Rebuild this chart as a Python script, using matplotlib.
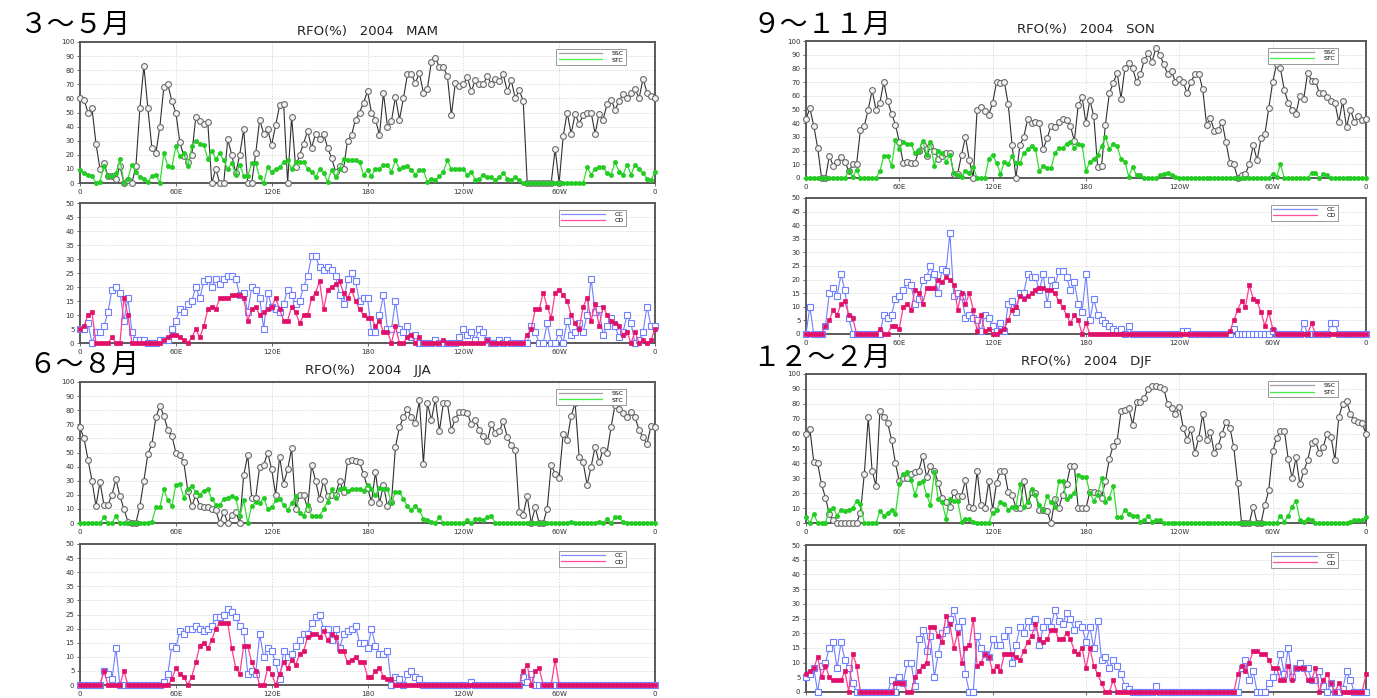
import matplotlib
matplotlib.use("Agg")
import matplotlib.pyplot as plt
from matplotlib.lines import Line2D
import numpy as np

plt.rcParams["font.family"] = ["DejaVu Sans"]

# longitude grid, 2.5 deg spacing, 0E .. 360 (=0)
lon = np.arange(0, 361, 2.5)
lon_ticks = [0, 60, 120, 180, 240, 300, 360]
lon_labels = ["0", "60E", "120E", "180", "120W", "60W", "0"]

seasons = ["MAM", "JJA", "SON", "DJF"]
season_names = ["３～５月", "６～８月", "９～１１月", "１２～２月"]

# ---- MAM ----
mam_ssc = [60, 59, 50, 53, 28, 10, 14, 5, 5, 3, 12, 0, 2, 0, 12, 53, 83, 53, 25, 21, 40, 68, 70, 58,
           50, 29, 19, 15, 20, 47, 44, 42, 43, 0, 10, 0, 0, 31, 20, 7, 20, 38, 0, 0, 21, 45, 35, 38,
           27, 41, 55, 56, 0, 47, 11, 20, 28, 37, 25, 35, 31, 35, 25, 18, 8, 12, 10, 30, 34, 45, 50, 57,
           65, 50, 45, 34, 64, 40, 44, 61, 45, 60, 77, 77, 71, 78, 64, 67, 86, 89, 82, 82, 76, 48, 71, 69,
           70, 75, 65, 73, 70, 70, 76, 70, 74, 72, 77, 65, 73, 60, 66, 58, 0, 0, 0, 0, 0, 0, 0, 24,
           0, 33, 50, 35, 49, 42, 48, 50, 50, 35, 49, 45, 56, 59, 52, 58, 63, 60, 64, 67, 60, 74, 64, 62,
           60]
mam_stc = [9, 7, 6, 5, 0, 1, 12, 5, 5, 7, 17, 0, 3, 13, 8, 4, 3, 1, 5, 6, 0, 21, 12, 11,
           26, 19, 21, 12, 26, 30, 28, 27, 17, 23, 17, 21, 16, 10, 14, 6, 13, 5, 5, 14, 14, 4, 0, 11,
           8, 10, 11, 15, 16, 10, 15, 15, 15, 10, 8, 4, 10, 7, 1, 9, 4, 10, 17, 16, 16, 16, 15, 6,
           9, 5, 10, 10, 13, 13, 8, 16, 10, 11, 12, 9, 6, 9, 9, 1, 3, 2, 5, 8, 16, 10, 10, 10,
           10, 6, 8, 2, 3, 6, 4, 4, 2, 4, 7, 3, 2, 4, 2, 0, 0, 0, 0, 0, 0, 0, 0, 0,
           0, 0, 0, 0, 0, 0, 0, 11, 6, 10, 11, 11, 7, 6, 15, 8, 6, 13, 6, 13, 10, 7, 3, 2,
           8]
mam_cc = [5, 5, 7, 0, 4, 4, 6, 11, 19, 20, 18, 8, 16, 4, 1, 1, 1, 0, 0, 0, 1, 1, 1, 5,
          8, 12, 11, 14, 15, 20, 16, 22, 23, 20, 23, 21, 23, 24, 24, 23, 17, 18, 11, 20, 19, 16, 5, 18,
          13, 12, 11, 14, 19, 17, 14, 15, 20, 24, 31, 31, 27, 26, 27, 26, 24, 17, 14, 23, 25, 22, 15, 16,
          16, 4, 4, 10, 17, 5, 5, 15, 5, 4, 6, 2, 3, 0, 0, 0, 0, 1, 0, 0, 0, 0, 0, 2,
          5, 3, 4, 1, 5, 4, 1, 0, 0, 1, 0, 1, 0, 0, 0, 0, 0, 6, 4, 0, 0, 7, 0, 0,
          4, 0, 8, 3, 4, 7, 4, 10, 23, 11, 12, 3, 6, 9, 6, 2, 4, 10, 7, 0, 1, 4, 13, 6,
          6]
mam_cd = [5, 6, 10, 11, 0, 0, 0, 0, 2, 0, 0, 16, 10, 0, 0, 0, 0, 0, 0, 0, 0, 1, 2, 3,
          3, 2, 1, 0, 2, 5, 2, 6, 12, 13, 12, 16, 16, 16, 17, 17, 17, 16, 8, 12, 13, 10, 11, 12,
          13, 16, 12, 8, 8, 13, 11, 7, 10, 10, 16, 18, 22, 12, 19, 20, 21, 22, 18, 16, 19, 15, 12, 10,
          9, 9, 6, 8, 4, 4, 0, 6, 0, 0, 2, 3, 0, 2, 0, 0, 0, 0, 0, 1, 0, 0, 0, 0,
          0, 0, 0, 0, 0, 0, 1, 0, 0, 0, 0, 0, 0, 0, 0, 0, 3, 5, 12, 12, 18, 13, 9, 18,
          19, 17, 15, 10, 7, 5, 13, 16, 8, 14, 6, 13, 10, 8, 7, 6, 3, 4, 0, 4, 0, 1, 0, 1,
          5]

# ---- JJA ----
jja_ssc = [68, 60, 45, 30, 12, 29, 13, 13, 20, 31, 19, 10, 1, 0, 0, 12, 30, 49, 56, 75, 83, 76, 66, 62,
           50, 48, 43, 23, 12, 20, 12, 11, 11, 10, 9, 0, 8, 0, 6, 8, 0, 34, 48, 18, 18, 40, 41, 50,
           38, 20, 47, 28, 38, 53, 10, 20, 20, 10, 41, 30, 17, 30, 19, 20, 20, 30, 22, 44, 45, 44, 43, 35,
           25, 15, 36, 14, 27, 12, 15, 54, 68, 75, 81, 75, 71, 87, 42, 85, 73, 88, 65, 85, 85, 66, 74, 79,
           79, 78, 70, 73, 66, 62, 58, 70, 64, 65, 72, 61, 55, 52, 8, 6, 19, 0, 11, 0, 0, 10, 41, 35,
           32, 63, 59, 76, 85, 47, 43, 27, 40, 54, 43, 52, 50, 68, 84, 81, 78, 75, 79, 75, 66, 61, 56, 69,
           68]
jja_stc = [0, 0, 0, 0, 0, 0, 4, 0, 0, 5, 0, 0, 0, 0, 0, 0, 0, 0, 1, 11, 11, 24, 16, 12,
           27, 28, 18, 24, 26, 22, 20, 23, 24, 17, 13, 13, 17, 18, 19, 18, 5, 16, 0, 12, 15, 14, 18, 10,
           11, 16, 17, 13, 9, 14, 19, 7, 5, 13, 5, 5, 5, 10, 15, 24, 18, 24, 25, 23, 24, 24, 24, 23,
           27, 24, 20, 25, 24, 24, 14, 22, 22, 17, 12, 9, 12, 9, 3, 2, 1, 0, 4, 0, 0, 0, 0, 0,
           0, 2, 0, 3, 3, 2, 4, 5, 0, 0, 0, 0, 0, 0, 0, 0, 0, 0, 0, 0, 0, 0, 0, 0,
           0, 0, 0, 1, 0, 0, 0, 0, 0, 0, 1, 0, 3, 0, 4, 4, 1, 0, 0, 0, 0, 0, 0, 0,
           0]
jja_cc = [0, 0, 0, 0, 0, 0, 5, 4, 2, 13, 0, 0, 0, 0, 0, 0, 0, 0, 0, 0, 0, 1, 4, 14,
          13, 19, 18, 20, 20, 21, 20, 19, 20, 21, 24, 24, 25, 27, 26, 24, 21, 19, 4, 5, 4, 18, 10, 13,
          12, 8, 2, 12, 10, 11, 14, 16, 18, 18, 22, 24, 25, 20, 20, 16, 20, 13, 18, 19, 20, 21, 15, 15,
          13, 20, 14, 11, 11, 12, 0, 3, 2, 0, 4, 5, 3, 2, 0, 0, 0, 0, 0, 0, 0, 0, 0, 0,
          0, 0, 1, 0, 0, 0, 0, 0, 0, 0, 0, 0, 0, 0, 0, 3, 1, 4, 0, 0, 0, 0, 0, 0,
          0, 0, 0, 0, 0, 0, 0, 0, 0, 0, 0, 0, 0, 0, 0, 0, 0, 0, 0, 0, 0, 0, 0, 0,
          0]
jja_cd = [0, 0, 0, 0, 0, 0, 5, 0, 0, 0, 0, 5, 0, 0, 0, 0, 0, 0, 0, 0, 0, 0, 0, 2,
          6, 4, 3, 0, 3, 8, 14, 15, 13, 16, 20, 22, 22, 22, 13, 6, 4, 14, 14, 8, 5, 0, 0, 6,
          4, 0, 4, 8, 6, 9, 7, 11, 12, 17, 18, 18, 17, 19, 16, 18, 17, 12, 12, 8, 9, 10, 8, 8,
          3, 3, 5, 6, 3, 2, 2, 0, 0, 0, 0, 0, 0, 0, 0, 0, 0, 0, 0, 0, 0, 0, 0, 0,
          0, 0, 0, 0, 0, 0, 0, 0, 0, 0, 0, 0, 0, 0, 0, 5, 7, 0, 5, 6, 0, 0, 0, 9,
          0, 0, 0, 0, 0, 0, 0, 0, 0, 0, 0, 0, 0, 0, 0, 0, 0, 0, 0, 0, 0, 0, 0, 0,
          0]

# ---- SON ----
son_ssc = [43, 51, 38, 22, 0, 0, 16, 9, 12, 15, 12, 5, 10, 10, 35, 38, 50, 64, 50, 55, 70, 56, 47, 39,
           26, 11, 12, 11, 11, 20, 24, 16, 23, 20, 14, 16, 18, 18, 3, 3, 17, 30, 13, 0, 50, 52, 49, 46,
           55, 70, 69, 70, 54, 24, 0, 24, 30, 43, 40, 41, 40, 21, 29, 38, 37, 41, 43, 42, 38, 27, 53, 59,
           40, 57, 45, 8, 9, 39, 62, 69, 77, 58, 80, 84, 80, 70, 76, 86, 91, 85, 95, 90, 83, 76, 78, 70,
           72, 70, 62, 70, 76, 76, 65, 39, 44, 34, 35, 41, 26, 11, 10, 0, 2, 3, 10, 24, 13, 29, 32, 51,
           70, 83, 80, 64, 55, 50, 47, 60, 58, 77, 71, 71, 62, 62, 59, 56, 55, 41, 56, 37, 50, 41, 45, 42,
           43]
son_stc = [0, 0, 0, 0, 0, 0, 0, 0, 0, 0, 0, 5, 1, 6, 0, 0, 0, 0, 0, 5, 16, 16, 9, 28,
           21, 26, 25, 25, 18, 20, 27, 17, 26, 9, 20, 18, 12, 17, 4, 2, 1, 5, 4, 8, 0, 0, 0, 14,
           17, 11, 3, 12, 10, 16, 11, 11, 18, 21, 23, 21, 5, 9, 7, 7, 18, 22, 22, 25, 26, 22, 25, 24,
           5, 12, 14, 17, 23, 30, 21, 25, 23, 14, 12, 1, 8, 2, 2, 0, 0, 0, 0, 2, 3, 4, 2, 1,
           0, 0, 0, 0, 0, 0, 0, 0, 0, 0, 0, 0, 0, 0, 0, 0, 0, 0, 0, 0, 0, 0, 0, 0,
           3, 1, 10, 0, 0, 0, 0, 0, 0, 0, 4, 4, 0, 3, 2, 0, 0, 0, 0, 0, 0, 0, 0, 0,
           0]
son_cc = [0, 10, 0, 0, 0, 3, 15, 17, 14, 22, 16, 6, 0, 0, 0, 0, 0, 0, 0, 0, 7, 6, 7, 13,
          14, 16, 19, 18, 11, 13, 20, 21, 25, 22, 15, 24, 23, 37, 14, 15, 14, 6, 7, 6, 5, 1, 7, 6,
          3, 1, 4, 1, 11, 12, 8, 15, 15, 22, 21, 21, 16, 22, 11, 20, 18, 23, 23, 21, 16, 19, 11, 8,
          22, 5, 13, 7, 5, 4, 3, 2, 1, 2, 0, 3, 0, 0, 0, 0, 0, 0, 0, 0, 0, 0, 0, 0,
          0, 1, 1, 0, 0, 0, 0, 0, 0, 0, 0, 0, 0, 0, 2, 0, 0, 0, 0, 0, 0, 0, 0, 0,
          1, 0, 0, 0, 0, 0, 0, 0, 4, 0, 0, 0, 0, 0, 0, 4, 4, 0, 0, 0, 0, 0, 0, 0,
          0]
son_cd = [0, 0, 0, 0, 0, 3, 5, 9, 7, 11, 12, 7, 6, 0, 0, 0, 0, 0, 0, 2, 0, 0, 3, 3,
          2, 10, 11, 9, 16, 15, 11, 17, 17, 17, 20, 19, 21, 20, 18, 9, 15, 11, 15, 9, 1, 7, 1, 2,
          0, 0, 1, 2, 5, 9, 10, 14, 13, 14, 15, 16, 17, 17, 16, 16, 15, 12, 10, 7, 4, 7, 5, 0,
          4, 0, 0, 0, 0, 0, 0, 0, 0, 0, 0, 0, 0, 0, 0, 0, 0, 0, 0, 0, 0, 0, 0, 0,
          0, 0, 0, 0, 0, 0, 0, 0, 0, 0, 0, 0, 0, 1, 5, 9, 12, 10, 18, 13, 12, 8, 3, 8,
          2, 0, 0, 0, 0, 0, 0, 0, 0, 0, 4, 0, 0, 0, 0, 0, 0, 0, 0, 0, 0, 0, 0, 0,
          0]

# ---- DJF ----
djf_ssc = [60, 63, 41, 40, 26, 17, 6, 2, 0, 0, 0, 0, 0, 0, 7, 33, 71, 35, 25, 75, 71, 67, 56, 40,
           28, 30, 30, 33, 34, 35, 45, 31, 38, 35, 27, 17, 14, 11, 21, 18, 18, 29, 11, 10, 35, 12, 10, 28,
           9, 27, 35, 35, 21, 19, 10, 10, 28, 12, 21, 20, 9, 9, 8, 0, 16, 10, 19, 26, 38, 38, 10, 10,
           10, 21, 21, 20, 17, 28, 43, 52, 55, 75, 76, 77, 66, 81, 81, 84, 90, 92, 92, 91, 90, 80, 77, 73,
           78, 64, 56, 63, 47, 57, 73, 56, 61, 47, 52, 60, 68, 64, 51, 27, 0, 0, 0, 11, 0, 0, 12, 22,
           48, 57, 62, 62, 43, 30, 44, 26, 35, 42, 54, 55, 47, 51, 60, 58, 42, 71, 80, 82, 73, 69, 68, 67,
           60]
djf_stc = [4, 0, 6, 0, 0, 0, 9, 10, 5, 9, 8, 9, 10, 15, 13, 0, 0, 0, 0, 8, 5, 7, 9, 6,
           26, 33, 34, 29, 19, 27, 28, 19, 12, 34, 16, 14, 3, 16, 15, 15, 1, 3, 3, 1, 0, 0, 0, 0,
           7, 9, 14, 13, 9, 11, 11, 26, 11, 14, 23, 19, 12, 9, 18, 14, 11, 28, 28, 16, 18, 20, 32, 31,
           31, 20, 15, 19, 30, 14, 17, 25, 4, 4, 9, 6, 5, 5, 1, 2, 5, 1, 2, 2, 0, 0, 0, 0,
           0, 0, 0, 0, 0, 0, 0, 0, 0, 0, 0, 0, 0, 0, 0, 0, 0, 0, 0, 0, 0, 0, 0, 0,
           0, 0, 5, 1, 5, 11, 15, 2, 1, 3, 2, 0, 0, 0, 0, 0, 0, 0, 0, 0, 1, 2, 2, 2,
           4]
djf_cc = [5, 6, 8, 0, 9, 10, 15, 17, 8, 17, 11, 8, 3, 0, 0, 0, 0, 0, 0, 0, 0, 0, 4, 0,
          5, 3, 10, 10, 2, 18, 21, 14, 19, 5, 13, 20, 21, 25, 28, 22, 24, 6, 0, 0, 19, 15, 13, 12,
          18, 16, 16, 19, 21, 10, 16, 22, 20, 24, 22, 25, 16, 22, 24, 22, 28, 24, 23, 27, 25, 21, 23, 22,
          17, 22, 15, 24, 11, 12, 8, 11, 9, 6, 2, 1, 0, 0, 0, 0, 0, 0, 2, 0, 0, 0, 0, 0,
          0, 0, 0, 0, 0, 0, 0, 0, 0, 0, 0, 0, 0, 0, 0, 0, 8, 11, 4, 7, 0, 0, 0, 3,
          5, 7, 13, 6, 15, 5, 8, 10, 8, 8, 4, 4, 7, 2, 0, 3, 0, 0, 1, 7, 4, 0, 0, 0,
          0]
djf_cd = [6, 7, 8, 12, 5, 9, 5, 4, 4, 4, 7, 0, 13, 9, 0, 0, 0, 0, 0, 0, 0, 0, 0, 3,
          3, 3, 0, 0, 5, 7, 9, 10, 22, 22, 19, 17, 26, 23, 15, 20, 10, 15, 16, 25, 9, 10, 13, 12,
          7, 9, 7, 13, 13, 13, 12, 11, 14, 17, 19, 23, 18, 17, 18, 21, 21, 18, 18, 20, 18, 14, 13, 15,
          8, 15, 9, 6, 3, 0, 0, 4, 0, 0, 0, 0, 0, 0, 0, 0, 0, 0, 0, 0, 0, 0, 0, 0,
          0, 0, 0, 0, 0, 0, 0, 0, 0, 0, 0, 0, 0, 0, 0, 6, 9, 7, 10, 14, 14, 13, 13, 11,
          8, 8, 4, 4, 9, 4, 8, 8, 8, 4, 4, 8, 0, 4, 6, 3, 0, 3, 0, 0, 0, 0, 0, 0,
          6]

upper = {"MAM": (mam_ssc, mam_stc), "JJA": (jja_ssc, jja_stc),
         "SON": (son_ssc, son_stc), "DJF": (djf_ssc, djf_stc)}
lower = {"MAM": (mam_cc, mam_cd), "JJA": (jja_cc, jja_cd),
         "SON": (son_cc, son_cd), "DJF": (djf_cc, djf_cd)}

W, H = 1377, 698
# panel boxes in pixels: (left, top, right, bottom) for upper and lower panels
boxes = {
    "MAM": ((80, 42, 655, 183), (80, 203, 655, 343)),
    "JJA": ((80, 382, 655, 523), (80, 544, 655, 685)),
    "SON": ((806, 41, 1366, 178), (806, 198, 1366, 334)),
    "DJF": ((806, 374, 1366, 523), (806, 545, 1366, 692)),
}
# season label (x, y) and subtitle y, pixels
labels_pos = {"MAM": (20, 25, 32), "JJA": (28, 365, 370),
              "SON": (752, 25, 30), "DJF": (752, 358, 362)}

styles = {
    "SSC": dict(color="#303030", lw=0.8, marker="o", ms=4.2, mfc="#f4f4f4", mec="#6a6a6a", mew=0.8),
    "STC": dict(color="#33dd33", lw=0.9, marker="o", ms=3.0, mfc="#22cc22", mec="#22cc22", mew=0.5),
    "CC": dict(color="#6f80ff", lw=0.8, marker="s", ms=4.0, mfc="white", mec="#6f80ff", mew=0.8),
    "CD": dict(color="#ff3d8f", lw=0.9, marker="s", ms=3.2, mfc="#e0106a", mec="#e0106a", mew=0.5),
}
legend_line = {"SSC": "#a0a0a0", "STC": "#44ee44", "CC": "#7f8fff", "CD": "#ff4f9a"}


def px_rect(box):
    l, t, r, b = box
    return [l / W, 1 - b / H, (r - l) / W, (b - t) / H]


def draw_panel(ax, series, names, ymax, ystep):
    for vals, name in zip(series, names):
        assert len(vals) == len(lon), (name, len(vals))
        ax.plot(lon, vals, clip_on=False, zorder=3, **styles[name])
    ax.set_xlim(0, 360)
    ax.set_ylim(0, ymax)
    ax.set_xticks(lon_ticks)
    ax.set_xticklabels(lon_labels)
    ax.set_yticks(np.arange(0, ymax + 1, ystep))
    ax.tick_params(labelsize=5, length=2, width=0.5, pad=2, colors="#333333")
    ax.grid(True, color="#cfcfcf", ls=(0, (2, 2)), lw=0.5)
    ax.set_axisbelow(True)
    for sp in ax.spines.values():
        sp.set_linewidth(1.4)
        sp.set_color("#5a5a5a")
    handles = [Line2D([], [], color=legend_line[n], lw=0.9) for n in names]
    leg = ax.legend(handles, names, loc="upper right", bbox_to_anchor=(0.955, 0.975),
                    fontsize=4.5, handlelength=7, handletextpad=1.5, borderpad=0.35,
                    labelspacing=0.15, fancybox=False, framealpha=1)
    leg.get_frame().set_edgecolor("#888888")
    leg.get_frame().set_linewidth(0.6)


fig = plt.figure(figsize=(W / 100, H / 100), dpi=100)
fig.patch.set_facecolor("white")

for season, name in zip(seasons, season_names):
    ub, lb = boxes[season]
    ax1 = fig.add_axes(px_rect(ub))
    draw_panel(ax1, upper[season], ["SSC", "STC"], 100, 10)
    ax2 = fig.add_axes(px_rect(lb))
    draw_panel(ax2, lower[season], ["CC", "CD"], 50, 5)

    lx, ly, ty = labels_pos[season]
    fig.text(lx / W, 1 - ly / H, name, fontsize=20, va="center", ha="left",
             family=["Noto Sans CJK JP", "DejaVu Sans"])
    cx = (ub[0] + ub[2]) / 2
    fig.text(cx / W, 1 - ty / H, f"RFO(%)   2004   {season}", fontsize=9.5,
             va="center", ha="center", color="#222222")

fig.savefig("out.png", dpi=100)
